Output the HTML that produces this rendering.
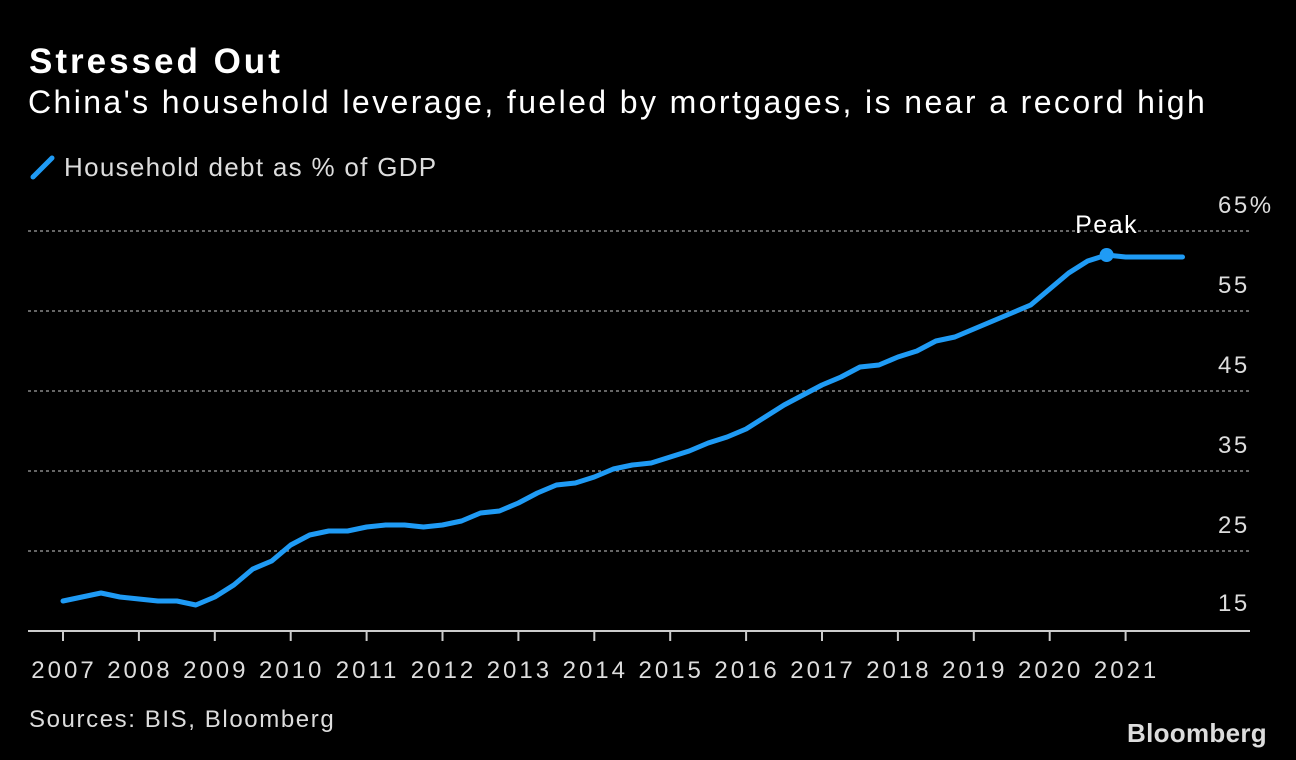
<!DOCTYPE html>
<html><head><meta charset="utf-8">
<style>
body{margin:0;background:#000;width:1296px;height:760px;overflow:hidden;font-family:"Liberation Sans",sans-serif;color:#fff}
.t{position:absolute;white-space:nowrap}
</style></head><body>
<div class="t" style="left:29px;top:42px;font-size:35px;font-weight:bold;letter-spacing:3px">Stressed Out</div>
<div class="t" style="left:28px;top:84px;font-size:32px;letter-spacing:2.4px">China's household leverage, fueled by mortgages, is near a record high</div>
<div class="t" style="left:30px;top:152px;font-size:26px;color:#ddd;letter-spacing:1.3px">
<svg width="26" height="26" style="vertical-align:-4px;margin-right:8px"><line x1="3" y1="23" x2="22" y2="4" stroke="#1f9bf5" stroke-width="5" stroke-linecap="round"/></svg>Household debt as % of GDP</div>
<svg id="c" width="1296" height="760" style="position:absolute;left:0;top:0"></svg>
<div class="t" style="left:29px;top:706px;font-size:24px;color:#ddd;letter-spacing:1.6px">Sources: BIS, Bloomberg</div>
<div class="t" style="left:1127px;top:718px;font-size:26px;font-weight:bold;color:#ddd;letter-spacing:0.3px">Bloomberg</div>
<script>
const startYear=2007;
const values=[18.75,19.25,19.75,19.25,19,18.75,18.75,18.25,19.25,20.75,22.75,23.75,25.75,27,27.5,27.5,28,28.25,28.25,28,28.25,28.75,29.75,30,31,32.25,33.25,33.5,34.25,35.25,35.75,36,36.75,37.5,38.5,39.25,40.25,41.75,43.25,44.5,45.75,46.75,48,48.25,49.25,50,51.25,51.75,52.75,53.75,54.75,55.75,57.75,59.75,61.25,62,61.75,61.75,61.75,61.75];
const yTicks=[15,25,35,45,55,65];
const xYears=[2007,2008,2009,2010,2011,2012,2013,2014,2015,2016,2017,2018,2019,2020,2021];
const peakIndex=55;
const NS="http://www.w3.org/2000/svg";
const svg=document.getElementById('c');
const x=t=>63+(t-2007)*75.9;
const y=v=>631-(v-15)*8;
function mk(tag,attrs){const e=document.createElementNS(NS,tag);for(const k in attrs)e.setAttribute(k,attrs[k]);svg.appendChild(e);return e;}
yTicks.forEach((v,i)=>{
  if(i>0){const g=mk('line',{x1:28,x2:1250,y1:y(v),y2:y(v),stroke:'#888','stroke-width':1.5,'stroke-dasharray':'3,3'});
  
  }
  const t=mk('text',{x:1218,y:y(v)-(i==0?20:18),'font-size':24,fill:'#ddd','letter-spacing':2.5});
  t.textContent=v+(i==yTicks.length-1?'%':'');
  
  
});
const ax=mk('line',{x1:28,x2:1250,y1:631,y2:631,stroke:'#ccc','stroke-width':2});


xYears.forEach(yr=>{
  const tk=mk('line',{x1:x(yr),x2:x(yr),y1:631,y2:641,stroke:'#ccc','stroke-width':2});
  
  
  const t=mk('text',{x:x(yr)+1,y:678,'text-anchor':'middle','font-size':24,fill:'#ddd','letter-spacing':3});
  t.textContent=yr;
  
  
});
const pts=values.map((v,i)=>x(startYear+i/4).toFixed(1)+','+y(v).toFixed(1)).join(' ');
const line=mk('polyline',{points:pts,fill:'none',stroke:'#1f9bf5','stroke-width':5,'stroke-linejoin':'round','stroke-linecap':'round'});


const px=x(startYear+peakIndex/4),py=y(values[peakIndex]);
const dot=mk('circle',{cx:px,cy:py,r:7,fill:'#1f9bf5'});


const pl=mk('text',{x:px,y:py-22,'text-anchor':'middle','font-size':25,fill:'#fff','letter-spacing':1.5});
pl.textContent='Peak';


</script>
</body></html>
